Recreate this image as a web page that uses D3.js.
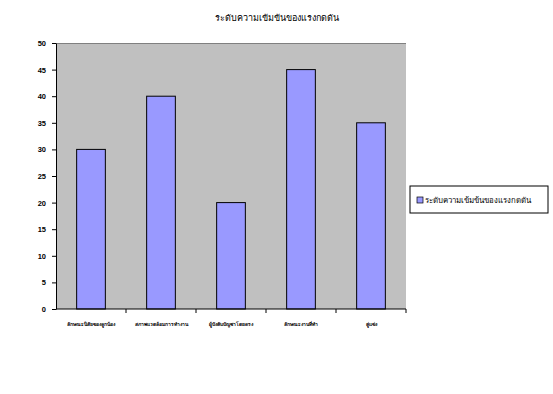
<!DOCTYPE html>
<html>
<head>
<meta charset="utf-8">
<script src="https://cdn.jsdelivr.net/npm/d3@7"></script>
<style>
  body { margin: 0; background: #fff; }
  svg { display: block; font-family: "Noto Sans", "DejaVu Sans", sans-serif; }
</style>
</head>
<body>
<div id="chart"></div>
<script>
// Data
const title = "ระดับความเข้มข้นของแรงกดดัน";
const seriesName = "ระดับความเข้มข้นของแรงกดดัน";
const categories = ["ลักษณะนิสัยของลูกน้อง", "สภาพแวดล้อมการทำงาน", "ผู้บังคับบัญชาโดยตรง", "ลักษณะงานที่ทำ", "คู่แข่ง"];
const values = [30, 40, 20, 45, 35];
const yTicks = [0, 5, 10, 15, 20, 25, 30, 35, 40, 45, 50];

const width = 553, height = 394;
const plot = { left: 56, right: 406, top: 43, bottom: 309 };

const svg = d3.select("#chart").append("svg")
    .attr("width", width)
    .attr("height", height);

const x = d3.scaleBand()
    .domain(categories)
    .range([plot.left, plot.right])
    .paddingInner(0.59)
    .paddingOuter(0.295);

const xOuter = d3.scaleBand()
    .domain(categories)
    .range([plot.left, plot.right]);

const y = d3.scaleLinear()
    .domain([0, 50])
    .range([plot.bottom, plot.top]);

// plot area
svg.append("rect")
    .attr("x", plot.left)
    .attr("y", plot.top)
    .attr("width", plot.right - plot.left)
    .attr("height", plot.bottom - plot.top)
    .attr("fill", "#c0c0c0");

svg.append("line")
    .attr("x1", plot.left).attr("x2", plot.right)
    .attr("y1", plot.top + 0.5).attr("y2", plot.top + 0.5)
    .attr("stroke", "#808080");

// bars
svg.append("g")
    .selectAll("rect")
    .data(values)
    .join("rect")
    .attr("x", (d, i) => x(categories[i]))
    .attr("y", d => y(d))
    .attr("width", x.bandwidth())
    .attr("height", d => y(0) - y(d))
    .attr("fill", "#9999ff")
    .attr("stroke", "#000")
    .attr("stroke-width", 1);

// y axis
svg.append("g")
    .attr("transform", `translate(${plot.left},0)`)
    .call(d3.axisLeft(y).tickValues(yTicks).tickSize(4).tickSizeOuter(0).tickPadding(6))
    .call(g => g.selectAll("text").attr("font-size", 7.5).attr("font-weight", "bold").attr("fill", "#000"))
    .call(g => g.selectAll("line, path").attr("stroke", "#000"));

// x axis
const xAxis = svg.append("g")
    .attr("transform", `translate(0,${plot.bottom})`);
xAxis.append("line")
    .attr("x1", plot.left).attr("x2", plot.right)
    .attr("stroke", "#000");
xAxis.selectAll(".tick")
    .data(categories.slice(1).concat(["end"]))
    .join("line")
    .attr("x1", (d, i) => plot.left + xOuter.bandwidth() * (i + 1))
    .attr("x2", (d, i) => plot.left + xOuter.bandwidth() * (i + 1))
    .attr("y1", 0).attr("y2", 4)
    .attr("stroke", "#000");
xAxis.selectAll("text")
    .data(categories)
    .join("text")
    .attr("x", d => xOuter(d) + xOuter.bandwidth() / 2)
    .attr("y", 17)
    .attr("text-anchor", "middle")
    .attr("font-size", 5)
    .attr("font-weight", "bold")
    .text(d => d);

// title
svg.append("text")
    .attr("x", width / 2)
    .attr("y", 21)
    .attr("text-anchor", "middle")
    .attr("font-size", 9)
    .text(title);

// legend
const legend = svg.append("g").attr("transform", "translate(410,186)");
legend.append("rect")
    .attr("width", 138).attr("height", 27)
    .attr("fill", "#fff").attr("stroke", "#000");
legend.append("rect")
    .attr("x", 7).attr("y", 11)
    .attr("width", 6).attr("height", 6)
    .attr("fill", "#9999ff").attr("stroke", "#000").attr("stroke-width", 0.7);
legend.append("text")
    .attr("x", 15).attr("y", 17)
    .attr("font-size", 7.8)
    .text(seriesName);
</script>
</body>
</html>
